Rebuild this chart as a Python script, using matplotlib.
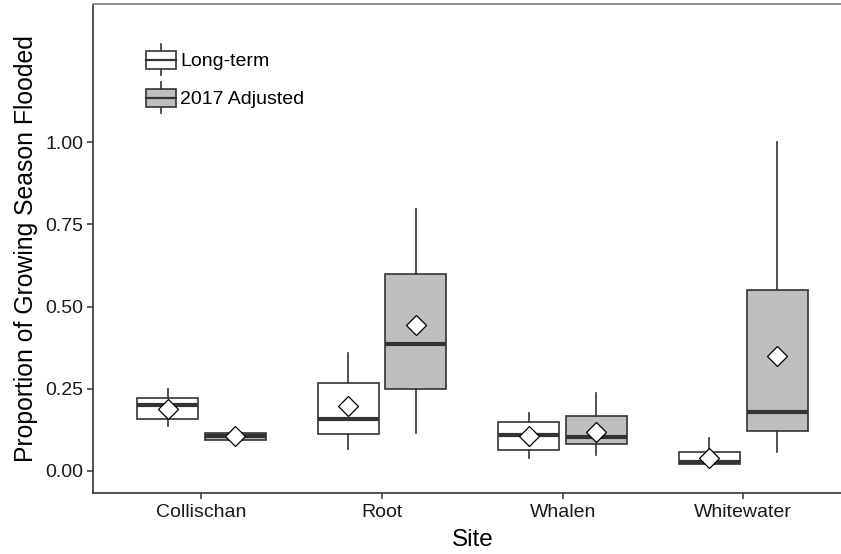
import matplotlib
matplotlib.use("Agg")
import matplotlib.pyplot as plt
from matplotlib.legend_handler import HandlerBase
from matplotlib.patches import Rectangle
from matplotlib.lines import Line2D

plt.rcParams["font.family"] = ["Liberation Sans", "DejaVu Sans"]

sites = ["Collischan", "Root", "Whalen", "Whitewater"]
groups = ["Long-term", "2017 Adjusted"]
y_ticks = [0.0, 0.25, 0.50, 0.75, 1.00]
y_tick_labels = ["0.00", "0.25", "0.50", "0.75", "1.00"]

# Long-term summary statistics per site
lt_whislo = [0.137, 0.067, 0.040, 0.021]
lt_q1 = [0.158, 0.112, 0.064, 0.021]
lt_med = [0.200, 0.158, 0.109, 0.028]
lt_q3 = [0.221, 0.267, 0.148, 0.059]
lt_whishi = [0.248, 0.359, 0.177, 0.100]
lt_mean = [0.188, 0.198, 0.106, 0.039]

# 2017 adjusted summary statistics per site
adj_whislo = [0.094, 0.116, 0.049, 0.059]
adj_q1 = [0.094, 0.249, 0.082, 0.122]
adj_med = [0.105, 0.386, 0.104, 0.180]
adj_q3 = [0.116, 0.599, 0.167, 0.550]
adj_whishi = [0.116, 0.796, 0.236, 1.000]
adj_mean = [0.106, 0.444, 0.119, 0.350]

fills = ["#FFFFFF", "#BEBEBE"]
edge = "#333333"


def make_stats(whislo, q1, med, q3, whishi, mean):
    return [dict(whislo=a, q1=b, med=c, q3=d, whishi=e, mean=f, fliers=[])
            for a, b, c, d, e, f in zip(whislo, q1, med, q3, whishi, mean)]


fig = plt.figure(figsize=(8.41, 5.54), dpi=100)
W, H = 841, 554
ax = fig.add_axes([93 / W, (H - 493) / H, (851.6 - 93) / W, (493 - 4) / H])

dodge = 0.1875
box_w = 0.3375
stats_sets = [
    make_stats(lt_whislo, lt_q1, lt_med, lt_q3, lt_whishi, lt_mean),
    make_stats(adj_whislo, adj_q1, adj_med, adj_q3, adj_whishi, adj_mean),
]
for gi, stats in enumerate(stats_sets):
    pos = [i + 1 + (gi * 2 - 1) * dodge for i in range(len(sites))]
    ax.bxp(stats, positions=pos, widths=box_w, patch_artist=True,
           showmeans=True, showcaps=False, showfliers=False,
           boxprops=dict(facecolor=fills[gi], edgecolor=edge, linewidth=1.2),
           whiskerprops=dict(color=edge, linewidth=1.2),
           medianprops=dict(color=edge, linewidth=3.0, solid_capstyle="butt"),
           meanprops=dict(marker="D", markerfacecolor="white",
                          markeredgecolor="black", markersize=10.5,
                          markeredgewidth=0.9, zorder=5))

ax.set_xlim(0.4, 4.6)
ax.set_ylim(-0.067, 1.42)
ax.set_xticks(range(1, len(sites) + 1))
ax.set_xticklabels(sites)
ax.set_yticks(y_ticks)
ax.set_yticklabels(y_tick_labels)
ax.tick_params(axis="both", labelsize=14, length=4, width=1.1,
               color=edge, labelcolor="#1a1a1a")
ax.tick_params(axis="x", pad=4)
ax.tick_params(axis="y", pad=3)
for side in ("left", "bottom"):
    ax.spines[side].set_color(edge)
    ax.spines[side].set_linewidth(1.2)
ax.spines["top"].set_color("#8c8c8c")
ax.spines["top"].set_linewidth(1.4)
ax.spines["right"].set_visible(False)

ax.set_xlabel("Site", fontsize=17.5, color="black", labelpad=6)
ax.set_ylabel("Proportion of Growing Season Flooded", fontsize=17.8,
              color="black", labelpad=5)


class BoxKeyHandler(HandlerBase):
    def create_artists(self, legend, orig_handle, xdescent, ydescent,
                       width, height, fontsize, trans):
        x0, y0 = -xdescent, -ydescent
        cx = x0 + width / 2
        whisk = Line2D([cx, cx], [y0, y0 + height], color=edge, lw=1.2,
                       transform=trans)
        rect = Rectangle((x0, y0 + 0.2 * height), width, 0.58 * height,
                         facecolor=orig_handle.get_facecolor(),
                         edgecolor=edge, lw=1.2, transform=trans)
        med = Line2D([x0, x0 + width], [y0 + 0.49 * height] * 2, color=edge,
                     lw=1.6, transform=trans)
        return [whisk, rect, med]


handles = [Rectangle((0, 0), 1, 1, facecolor=c) for c in fills]
ax.legend(handles, groups, handler_map={Rectangle: BoxKeyHandler()},
          loc="upper left", bbox_to_anchor=(146 / W, 1 - 44 / H),
          bbox_transform=fig.transFigure, frameon=False, fontsize=14,
          borderpad=0, borderaxespad=0, handlelength=1.55, handleheight=2.07,
          handletextpad=0.2, labelspacing=0.38)

fig.savefig("out.png", dpi=100)
